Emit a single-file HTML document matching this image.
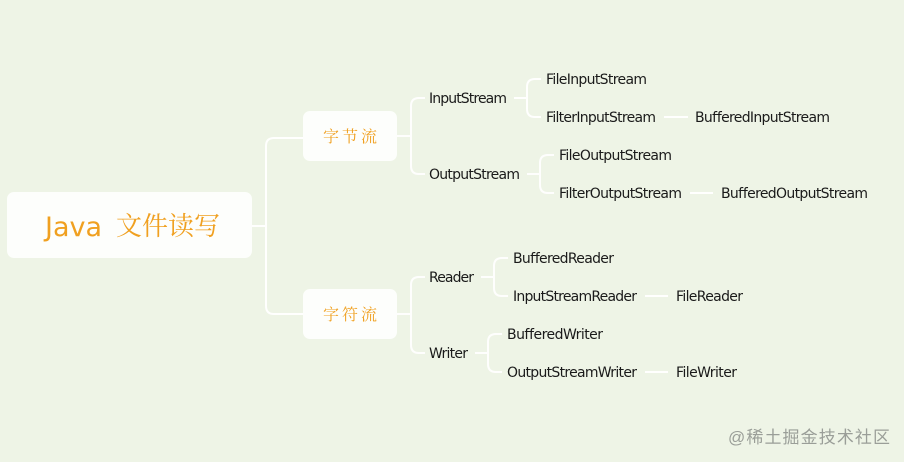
<!DOCTYPE html>
<html><head><meta charset="utf-8"><style>
html,body{margin:0;padding:0;background:#eef4e6;}
svg{display:block}
text{font-family:"DejaVu Sans","Liberation Sans",sans-serif;font-size:14px;fill:#1a1a1a;}
.c{font-family:"Noto Serif CJK SC","Noto Sans CJK SC",sans-serif;fill:#f0a020;}
</style></head><body>
<svg width="904" height="462" viewBox="0 0 904 462" xmlns="http://www.w3.org/2000/svg">
<rect width="904" height="462" fill="#eef4e6"/>
<g fill="none" stroke="#ffffff" stroke-width="2" opacity="0.95">
<path d="M252 226 H266 M266 226 V146 Q266 138 274 138 H304 M266 226 V306 Q266 314 274 314 H304"/>
<path d="M397 136 H411 M411 136 V106 Q411 98 419 98 H425 M411 136 V166 Q411 174 419 174 H425"/>
<path d="M397 314 H411 M411 314 V285 Q411 277 419 277 H425 M411 314 V345 Q411 353 419 353 H425"/>
<path d="M514 98 H527 M527 98 V87 Q527 79 535 79 H541 M527 98 V109 Q527 117 535 117 H541"/>
<path d="M527 174 H540 M540 174 V163 Q540 155 548 155 H554 M540 174 V185 Q540 193 548 193 H554"/>
<path d="M481 277 H494 M494 277 V266 Q494 258 502 258 H508 M494 277 V288 Q494 296 502 296 H508"/>
<path d="M475 353 H488 M488 353 V342 Q488 334 496 334 H502 M488 353 V364 Q488 372 496 372 H502"/>
<path d="M664 117 H688 M690 193 H713 M645 296 H668 M645 372 H668"/>
</g>
<rect x="7" y="192" width="245" height="66" rx="7" fill="#fdfefc"/>
<rect x="303" y="111" width="94" height="50" rx="7" fill="#fdfefc"/>
<rect x="303" y="289" width="94" height="50" rx="7" fill="#fdfefc"/>
<text x="45" y="236" style="font-size:27px;fill:#f0a020">Java</text>
<text class="c" x="116" y="235" style="font-size:26px" textLength="104">文件读写</text>
<text class="c" x="323" y="142" style="font-size:16px" textLength="54">字节流</text>
<text class="c" x="323" y="320" style="font-size:16px" textLength="54">字符流</text>
<text x="429" y="103" textLength="78">InputStream</text>
<text x="429" y="179" textLength="91">OutputStream</text>
<text x="546" y="84" textLength="101">FileInputStream</text>
<text x="546" y="122" textLength="110">FilterInputStream</text>
<text x="695" y="122" textLength="135">BufferedInputStream</text>
<text x="559" y="160" textLength="113">FileOutputStream</text>
<text x="559" y="198" textLength="123">FilterOutputStream</text>
<text x="721" y="198" textLength="147">BufferedOutputStream</text>
<text x="429" y="282" textLength="45">Reader</text>
<text x="429" y="358" textLength="39">Writer</text>
<text x="513" y="263" textLength="101">BufferedReader</text>
<text x="513" y="301" textLength="124">InputStreamReader</text>
<text x="676" y="301" textLength="67">FileReader</text>
<text x="507" y="339" textLength="96">BufferedWriter</text>
<text x="507" y="377" textLength="130">OutputStreamWriter</text>
<text x="676" y="377" textLength="61">FileWriter</text>
<text x="728" y="443" style="font-family:'Liberation Sans','Noto Sans CJK SC',sans-serif;font-size:17px;fill:#9a9e98" textLength="162">@稀土掘金技术社区</text>
</svg>
</body></html>
